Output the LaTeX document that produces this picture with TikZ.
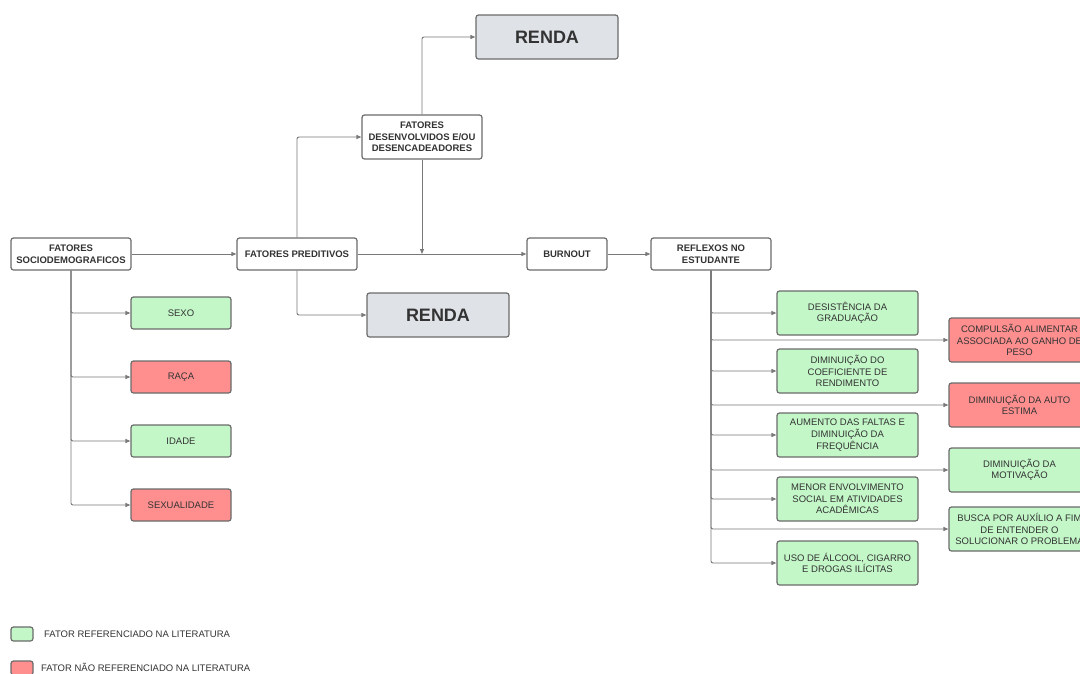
\documentclass[tikz,border=0pt]{standalone}
\usepackage{fontspec}
\setmainfont{Liberation Sans}
\usetikzlibrary{arrows.meta}
\definecolor{boxline}{HTML}{6B6B6B}
\definecolor{ink}{HTML}{333333}
\definecolor{wire}{HTML}{787878}
\definecolor{okfill}{HTML}{C3F7C8}
\definecolor{nofill}{HTML}{FF8F8F}
\definecolor{rendafill}{HTML}{DFE3E8}
\begin{document}
\begin{tikzpicture}[x=1pt,y=-1pt,
  txt/.style={font=\fontsize{9.5}{11.6}\selectfont, text=ink},
  box/.style={draw=boxline, line width=1.2pt, rounded corners=2.5pt, fill=white,
    align=center, inner sep=0pt, txt},
  head/.style={box, font=\bfseries\fontsize{9.5}{11.6}\selectfont,
    minimum width=120pt, minimum height=32pt},
  renda/.style={box, fill=rendafill, font=\bfseries\fontsize{18}{20}\selectfont,
    minimum width=142pt, minimum height=44pt},
  small/.style={box, minimum width=100pt, minimum height=32pt},
  wide/.style={box, minimum width=141pt, minimum height=44pt},
  ok/.style={fill=okfill},
  no/.style={fill=nofill},
  link/.style={draw=wire, line width=0.9pt, rounded corners=2pt,
    -{Triangle[length=5pt,width=4pt]}},
  key/.style={draw=boxline, line width=1.2pt, rounded corners=2.5pt,
    minimum width=22pt, minimum height=14pt, inner sep=0pt}
]
\useasboundingbox (0,0) rectangle (1080,673);
\clip (0,0) rectangle (1080,673);

% main chain
\node[head] (soc)  at (71,254)  {FATORES\\SOCIODEMOGRAFICOS};
\node[head] (pred) at (297,254) {FATORES PREDITIVOS};
\node[head, minimum width=80pt] (burn) at (567,254) {BURNOUT};
\node[head] (refl) at (711,254) {REFLEXOS NO\\ESTUDANTE};
\node[head, minimum height=44pt] (des) at (422,137) {FATORES\\DESENVOLVIDOS E/OU\\DESENCADEADORES};
\node[renda] (rendaA) at (547,37)  {RENDA};
\node[renda] (rendaB) at (438,315) {RENDA};

% sociodemographic factors
\node[small, ok] (sexo)  at (181,313) {SEXO};
\node[small, no] (raca)  at (181,377) {RAÇA};
\node[small, ok] (idade) at (181,441) {IDADE};
\node[small, no] (sexu)  at (181,505) {SEXUALIDADE};

% effects on the student, first column
\node[wide, ok] (r1) at (847.5,313) {DESISTÊNCIA DA\\GRADUAÇÃO};
\node[wide, ok] (r2) at (847.5,371) {DIMINUIÇÃO DO\\COEFICIENTE DE\\RENDIMENTO};
\node[wide, ok] (r3) at (847.5,435) {AUMENTO DAS FALTAS E\\DIMINUIÇÃO DA\\FREQUÊNCIA};
\node[wide, ok] (r4) at (847.5,499) {MENOR ENVOLVIMENTO\\SOCIAL EM ATIVIDADES\\ACADÊMICAS};
\node[wide, ok] (r5) at (847.5,563) {USO DE ÁLCOOL, CIGARRO\\E DROGAS ILÍCITAS};

% effects on the student, second column
\node[wide, no] (s1) at (1019.5,340) {COMPULSÃO ALIMENTAR\\ASSOCIADA AO GANHO DE\\PESO};
\node[wide, no] (s2) at (1019.5,405) {DIMINUIÇÃO DA AUTO\\ESTIMA};
\node[wide, ok] (s3) at (1019.5,470) {DIMINUIÇÃO DA\\MOTIVAÇÃO};
\node[wide, ok] (s4) at (1019.5,529) {BUSCA POR AUXÍLIO A FIM\\DE ENTENDER O\\SOLUCIONAR O PROBLEMA};

% connectors along the chain
\draw[link] (soc) -- (pred);
\draw[link] (pred) -- (burn);
\draw[link] (burn) -- (refl);
\draw[link] (pred.north) |- (des.west);
\draw[link] (des.north) |- (rendaA.west);
\draw[link] (pred.south) |- (rendaB.west);
\coordinate (join) at (des.south |- pred.east);
\draw[link] (des.south) -- (join);

% branches of the sociodemographic factors
\foreach \n in {sexo,raca,idade,sexu}
  \draw[link] (soc.south) |- (\n.west);

% branches of the effects
\foreach \n in {r1,r2,r3,r4,r5,s1,s2,s3,s4}
  \draw[link] (refl.south) |- (\n.west);

% legend
\node[key, fill=okfill] (kok) at (22,634) {};
\node[txt, anchor=west, inner sep=0pt] (lok) at (44,634) {FATOR REFERENCIADO NA LITERATURA};
\node[key, fill=nofill] (kno) at (22,668) {};
\node[txt, anchor=west, inner sep=0pt] (lno) at (41,667) {FATOR NÃO REFERENCIADO NA LITERATURA};
\end{tikzpicture}
\end{document}
